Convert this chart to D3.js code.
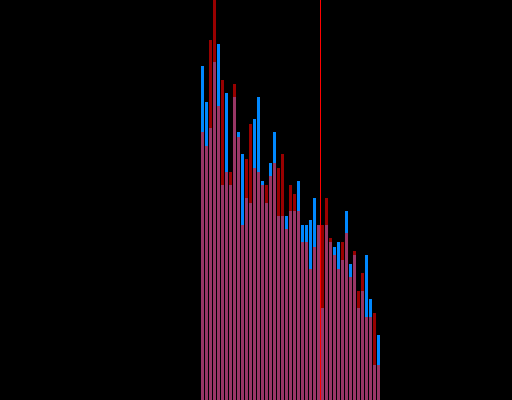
<!DOCTYPE html>
<html>
<head>
<meta charset="utf-8">
<script src="https://cdn.jsdelivr.net/npm/d3@7"></script>
<style>
html, body { margin: 0; padding: 0; background: #000; overflow: hidden; }
svg { display: block; }
</style>
</head>
<body>
<script>
const categories = d3.range(45).map(i => "c" + i);
const seriesBlue = [83.5, 74.5, 68, 84.5, 89, 53.75, 76.75, 53.75, 75.75, 67, 61.5, 50.5, 49.25, 70.25, 75.75, 54.75, 49.25, 59.25, 67, 46, 46, 46, 47.25, 47.25, 54.75, 43.75, 43.75, 45, 50.5, 43.75, 23, 43.75, 39.5, 38.25, 39.5, 35, 47.25, 34, 36.25, 23, 27.25, 36.25, 25.25, 8.75, 16.25];
const seriesRed = [67, 63.5, 90, 100, 73.5, 80, 57, 57, 79, 65.75, 43.75, 60.25, 69, 58, 57, 53.75, 53.75, 56, 59.25, 58, 61.5, 42.75, 53.75, 51.5, 47.25, 39.5, 39.5, 32.75, 38.25, 43.75, 43.75, 50.5, 40.5, 36.25, 32.75, 39.5, 41.75, 30.75, 37.25, 27.25, 31.75, 20.75, 20.75, 21.75, 8.75];
const markers = ["c30"];

const W = 512, H = 400;
const svg = d3.select("body").append("svg").attr("width", W).attr("height", H);
svg.append("rect").attr("width", W).attr("height", H).attr("fill", "#000");

const x = d3.scaleBand().domain(categories).range([200.5, 380.5]).paddingInner(0.25).paddingOuter(0.125);
const y = d3.scaleLinear().domain([0, 100]).range([H, 0]);

svg.append("g").selectAll("rect").data(seriesBlue).join("rect")
  .attr("x", (d, i) => x(categories[i]))
  .attr("width", x.bandwidth())
  .attr("y", d => y(d))
  .attr("height", d => H - y(d))
  .attr("fill", "#0088ff");

svg.append("g").selectAll("rect").data(seriesRed).join("rect")
  .attr("x", (d, i) => x(categories[i]))
  .attr("width", x.bandwidth())
  .attr("y", d => y(d))
  .attr("height", d => H - y(d))
  .attr("fill", "#ff0000")
  .attr("fill-opacity", 0.6);

svg.append("g").selectAll("line").data(markers).join("line")
  .attr("x1", d => x(d) - x.step() * x.paddingInner() / 2)
  .attr("x2", d => x(d) - x.step() * x.paddingInner() / 2)
  .attr("y1", 0).attr("y2", H)
  .attr("stroke", "#ff0000").attr("stroke-width", 1);
</script>
</body>
</html>
